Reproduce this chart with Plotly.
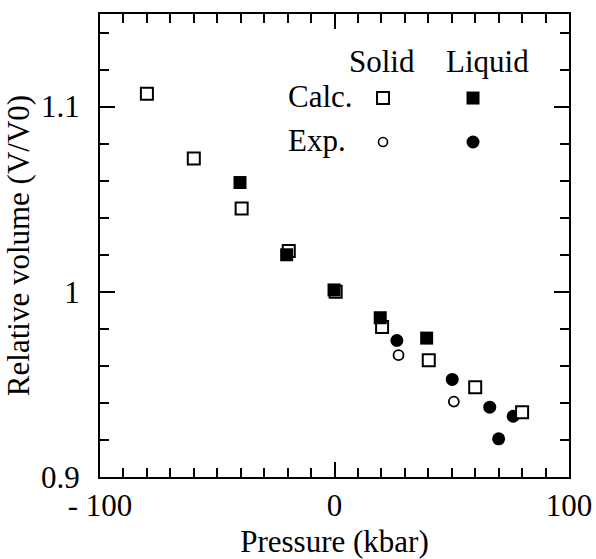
import plotly.graph_objects as go

# ---- data ----
calc_solid_p = [-80, -60, -39.6, -19.5, 0.5, 20.3, 40.2, 60, 80]
calc_solid_v = [1.107, 1.072, 1.045, 1.022, 1.000, 0.981, 0.963, 0.9485, 0.935]

calc_liquid_p = [-40.3, -20.4, -0.2, 19.5, 39.3]
calc_liquid_v = [1.059, 1.020, 1.001, 0.986, 0.975]

exp_solid_p = [27.3, 50.9]
exp_solid_v = [0.9658, 0.9407]

exp_liquid_p = [26.6, 50.2, 66.2, 70.0, 76.2]
exp_liquid_v = [0.9737, 0.9527, 0.9377, 0.9206, 0.9328]

x_tickvals = [-100, 0, 100]
x_ticktext = ["- 100", "0", "100"]
y_tickvals = [0.9, 1.0, 1.1]
y_ticktext = ["0.9", "1", "1.1"]

key_cols = ["Solid", "Liquid"]
key_rows = ["Calc.", "Exp."]

FONT = "Liberation Serif"
BLACK = "black"

fig = go.Figure()

# experimental liquid (filled circles)
fig.add_trace(go.Scatter(x=exp_liquid_p, y=exp_liquid_v, mode="markers",
                         marker=dict(symbol="circle", size=13, color=BLACK, line=dict(width=0)),
                         showlegend=False))
# experimental solid (open circles)
fig.add_trace(go.Scatter(x=exp_solid_p, y=exp_solid_v, mode="markers",
                         marker=dict(symbol="circle", size=10, color="white",
                                     line=dict(width=1.8, color=BLACK)),
                         showlegend=False))
# calculated solid (open squares)
fig.add_trace(go.Scatter(x=calc_solid_p, y=calc_solid_v, mode="markers",
                         marker=dict(symbol="square", size=12, color="white",
                                     line=dict(width=2, color=BLACK)),
                         showlegend=False))
# calculated liquid (filled squares)
fig.add_trace(go.Scatter(x=calc_liquid_p, y=calc_liquid_v, mode="markers",
                         marker=dict(symbol="square", size=13, color=BLACK, line=dict(width=0)),
                         showlegend=False))

# ---- key (2x2 grid on hidden categorical axes) ----
fig.add_trace(go.Scatter(x=[key_cols[0]], y=[key_rows[0]], xaxis="x2", yaxis="y2", mode="markers",
                         marker=dict(symbol="square", size=12, color="white",
                                     line=dict(width=2, color=BLACK)), showlegend=False))
fig.add_trace(go.Scatter(x=[key_cols[1]], y=[key_rows[0]], xaxis="x2", yaxis="y2", mode="markers",
                         marker=dict(symbol="square", size=13, color=BLACK), showlegend=False))
fig.add_trace(go.Scatter(x=[key_cols[0]], y=[key_rows[1]], xaxis="x2", yaxis="y2", mode="markers",
                         marker=dict(symbol="circle", size=9, color="white",
                                     line=dict(width=1.6, color=BLACK)), showlegend=False))
fig.add_trace(go.Scatter(x=[key_cols[1]], y=[key_rows[1]], xaxis="x2", yaxis="y2", mode="markers",
                         marker=dict(symbol="circle", size=13, color=BLACK), showlegend=False))

axis_common = dict(
    showline=True, linewidth=2, linecolor=BLACK, mirror="allticks",
    ticks="inside", tickwidth=2, tickcolor=BLACK, ticklen=15,
    showgrid=False, zeroline=False, automargin=False,
    tickfont=dict(family=FONT, size=31, color=BLACK),
)

fig.update_layout(
    width=596, height=559,
    margin=dict(l=100, r=27, t=14, b=82),
    paper_bgcolor="white", plot_bgcolor="white",
    font=dict(family=FONT, color=BLACK),
    xaxis=dict(range=[-100, 100], tickmode="array", tickvals=x_tickvals, ticktext=x_ticktext,
               minor=dict(dtick=10, ticks="inside", ticklen=9, tickwidth=1.6, tickcolor=BLACK),
               title=dict(text="Pressure (kbar)", font=dict(family=FONT, size=31), standoff=8),
               **axis_common),
    yaxis=dict(range=[0.9, 1.15], tickmode="array", tickvals=y_tickvals, ticktext=y_ticktext,
               ticklabelstandoff=12,
               minor=dict(dtick=0.02, tick0=0.9, ticks="inside", ticklen=9, tickwidth=1.6, tickcolor=BLACK),
               title=dict(text="Relative volume (V/V0)", font=dict(family=FONT, size=31), standoff=2),
               **axis_common),
    xaxis2=dict(domain=[0.5075, 0.8913], range=[-0.5, 1.5], anchor="y2", visible=False,
                type="category", categoryorder="array", categoryarray=key_cols),
    yaxis2=dict(domain=[0.676, 0.866], range=[1.5, -0.5], anchor="x2", visible=False,
                type="category", categoryorder="array", categoryarray=key_rows),
)

ann_font = dict(family=FONT, size=31, color=BLACK)
fig.add_annotation(text=key_cols[0], x=0.601, y=0.898, xref="paper", yref="paper",
                   xanchor="center", yanchor="middle", showarrow=False, font=ann_font)
fig.add_annotation(text=key_cols[1], x=0.827, y=0.898, xref="paper", yref="paper",
                   xanchor="center", yanchor="middle", showarrow=False, font=ann_font)
fig.add_annotation(text=key_rows[0], x=0.396, y=0.822, xref="paper", yref="paper",
                   xanchor="left", yanchor="middle", showarrow=False, font=ann_font)
fig.add_annotation(text=key_rows[1], x=0.396, y=0.727, xref="paper", yref="paper",
                   xanchor="left", yanchor="middle", showarrow=False, font=ann_font)

fig.write_html("out.html")
